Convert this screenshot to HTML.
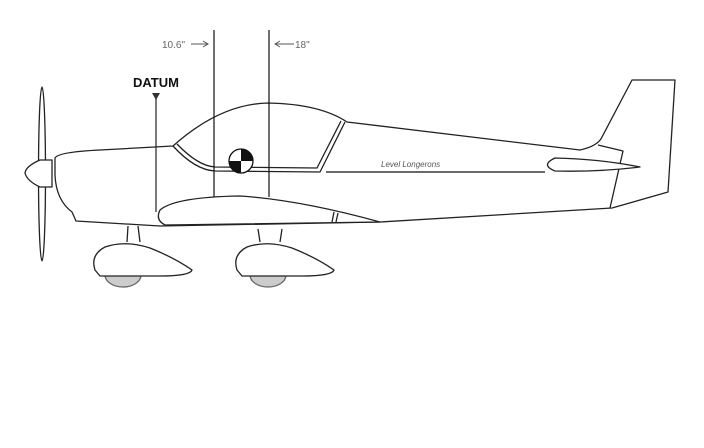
<!DOCTYPE html>
<html><head><meta charset="utf-8"><style>html,body{margin:0;padding:0;background:#fff}svg{display:block}</style></head>
<body>
<svg width="704" height="448" viewBox="0 0 704 448" font-family="Liberation Sans, sans-serif">
<g fill="none" stroke="#222" stroke-width="1.3" stroke-linejoin="round">
 <ellipse cx="42" cy="174" rx="3.5" ry="87" fill="#fff"/>
 <path d="M52 160 L40 160 Q26 166 25 173 Q27 181 40 187 L52 187 Z" fill="#fff"/>
 <path d="M55 158 Q58 152 100 150 L173 146 Q220 104 268 103 Q320 104 347 122 L580 150 Q598 146 602 137 L632 80 L675 80 L668 192 L612 208 L380 222 L160 226 L76 221 L72 212 Q56 200 55 175 Z" fill="#fff"/>
 <path d="M173 146 Q195 170 215 171 L320 172 L345 122 M177 144 Q198 166 215 167 L317 168 L341 121"/>
 <path d="M598 145 L623 151 L610 208"/>
 <path d="M555 158 Q540 165 555 171 Q600 172 640 167 Q600 159 555 158 Z" fill="#fff"/>
 <path d="M380 222 Q300 200 240 196 Q175 197 160 210 Q155 220 165 225 Z" fill="#fff"/>
 <path d="M334 212 L332 222 M338 213 L336 222"/>
 <path d="M128 226 L127 242 M138 226 L140 242"/>
 <path d="M258 229 L260 242 M282 229 L280 242"/>
 <path d="M105 275 A18 12 0 0 0 141 275 Z" fill="#ccc" stroke="#666"/>
 <path d="M250 275 A18 12 0 0 0 286 275 Z" fill="#ccc" stroke="#666"/>
 <path d="M95 270 Q90 255 105 247 Q125 240 150 248 Q175 258 192 270 Q190 276 160 276 L100 276 Z" fill="#fff"/>
 <path d="M237 270 Q232 255 247 247 Q267 240 292 248 Q317 258 334 270 Q332 276 302 276 L242 276 Z" fill="#fff"/>
</g>
<line x1="214" y1="30" x2="214" y2="197" stroke="#111" stroke-width="1.2"/>
<line x1="269" y1="30" x2="269" y2="197" stroke="#111" stroke-width="1.2"/>
<text x="162" y="48" font-size="10" fill="#666">10.6"</text>
<path d="M191 44 H207 M203 41 L208 44 L203 47" stroke="#555" fill="none" stroke-width="1"/>
<path d="M276 44 H294 M280 41 L275 44 L280 47" stroke="#555" fill="none" stroke-width="1"/>
<text x="295" y="48" font-size="10" fill="#666">18"</text>
<text x="133" y="87" font-size="13" font-weight="bold" fill="#111">DATUM</text>
<path d="M152 93 L160 93 L156 100 Z" fill="#333"/>
<line x1="156" y1="98" x2="156" y2="212" stroke="#222" stroke-width="1.2"/>
<g>
 <circle cx="241" cy="161" r="12" fill="#fff" stroke="#111" stroke-width="1.3"/>
 <path d="M241 161 L241 149 A12 12 0 0 1 253 161 Z M241 161 L241 173 A12 12 0 0 1 229 161 Z" fill="#111"/>
</g>
<line x1="326" y1="172" x2="545" y2="172" stroke="#111" stroke-width="1.3"/>
<text x="381" y="167" font-size="8" font-style="italic" fill="#555">Level Longerons</text>
</svg>
</body></html>
